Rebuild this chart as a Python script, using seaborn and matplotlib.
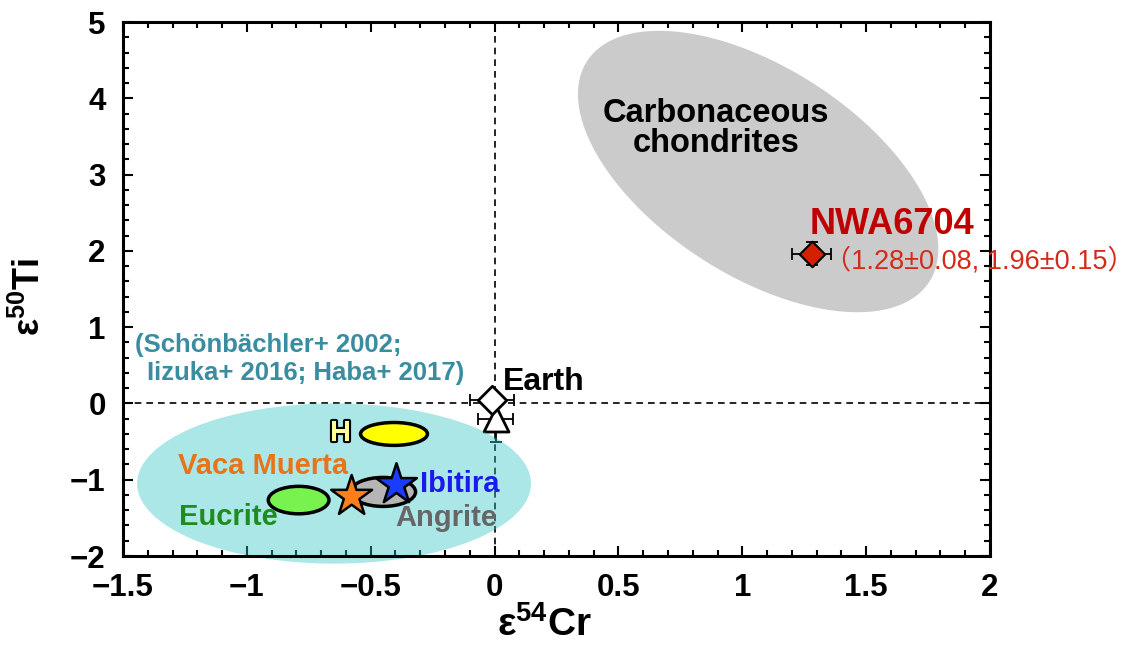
import numpy as np
import pandas as pd
import matplotlib
matplotlib.use("Agg")
import matplotlib.pyplot as plt
import matplotlib.patheffects as pe
from matplotlib.patches import Ellipse
from matplotlib.ticker import MultipleLocator
import seaborn as sns

# ---------------- data ----------------
x_ticks = [-1.5, -1, -0.5, 0, 0.5, 1, 1.5, 2]
x_tick_labels = ["\u22121.5", "\u22121", "\u22120.5", "0", "0.5", "1", "1.5", "2"]
y_ticks = [-2, -1, 0, 1, 2, 3, 4, 5]
y_tick_labels = ["\u22122", "\u22121", "0", "1", "2", "3", "4", "5"]

# measured samples (eps54Cr, eps50Ti) with errors
nwa_cr, nwa_ti = [1.28], [1.96]
nwa_cr_err, nwa_ti_err = [0.08], [0.15]
earth_cr_diamond, earth_ti_diamond, earth_cr_err_diamond = [-0.01], [0.04], [0.09]
earth_cr_tri, earth_ti_tri = [0.005], [-0.20]
earth_cr_err_tri, earth_ti_err_tri = [0.07], [0.31]

# achondrite stars
star_names = ["Vaca Muerta", "Ibitira"]
star_cr = [-0.577, -0.396]
star_ti = [-1.22, -1.066]

# group fields (ellipses): centre, full width (Cr), full height (Ti)
group_names = ["H", "Eucrite", "Angrite"]
group_cr = [-0.406, -0.791, -0.45]
group_ti = [-0.40, -1.267, -1.16]
group_w = [0.27, 0.245, 0.262]
group_h = [0.30, 0.36, 0.38]

# non-carbonaceous field
nc_center = (-0.648, -1.05)
nc_size = (1.59, 2.10)

# carbonaceous chondrite field: centre and two conjugate half-axes (data units)
cc_center = (1.064, 3.04)
cc_axis1 = (0.69, -1.45)
cc_axis2 = (0.23, 1.14)

# ---------------- style ----------------
sns.set_theme(style="ticks")
plt.rcParams["font.family"] = ["Liberation Sans", "Noto Sans CJK JP", "DejaVu Sans"]
plt.rcParams["mathtext.fontset"] = "custom"
plt.rcParams["mathtext.rm"] = "Liberation Sans:bold"
plt.rcParams["mathtext.bf"] = "Liberation Sans:bold"
plt.rcParams["mathtext.it"] = "Liberation Sans:bold"
plt.rcParams["text.color"] = "black"
plt.rcParams["axes.labelcolor"] = "black"
plt.rcParams["xtick.color"] = "black"
plt.rcParams["ytick.color"] = "black"
plt.rcParams["xtick.labelcolor"] = "black"
plt.rcParams["ytick.labelcolor"] = "black"

fig = plt.figure(figsize=(11.28, 6.49), dpi=100)
ax = fig.add_axes([123 / 1128, 1 - 556 / 649, (990 - 123) / 1128, (556 - 22) / 649])
ax.set_xlim(-1.5, 2)
ax.set_ylim(-2, 5)

# carbonaceous field
t = np.linspace(0, 2 * np.pi, 400)
cc_x = cc_center[0] + cc_axis1[0] * np.cos(t) + cc_axis2[0] * np.sin(t)
cc_y = cc_center[1] + cc_axis1[1] * np.cos(t) + cc_axis2[1] * np.sin(t)
ax.fill(cc_x, cc_y, color="#cbcbcb", lw=0, zorder=1)

# reference dashed lines
ax.axhline(0, color="black", lw=1.2, ls=(0, (4, 3)), zorder=2)
ax.axvline(0, color="black", lw=1.2, ls=(0, (4, 3)), zorder=2)

# Earth error bars and markers
ax.errorbar(earth_cr_tri, earth_ti_tri, xerr=earth_cr_err_tri, yerr=earth_ti_err_tri,
            fmt="none", ecolor="black", elinewidth=1.3, capsize=4, capthick=1.3, zorder=3)
ax.errorbar(earth_cr_diamond, earth_ti_diamond, xerr=earth_cr_err_diamond,
            fmt="none", ecolor="black", elinewidth=1.3, capsize=4, capthick=1.3, zorder=3)
sns.scatterplot(x=earth_cr_tri, y=earth_ti_tri, marker="^", s=18 ** 2, color="white",
                edgecolor="black", linewidth=2.0, ax=ax, zorder=4)
sns.scatterplot(x=earth_cr_diamond, y=earth_ti_diamond, marker="D", s=14.5 ** 2, color="white",
                edgecolor="black", linewidth=2.0, ax=ax, zorder=5)

# non-carbonaceous (cyan) field, translucent on top
ax.add_patch(Ellipse(nc_center, nc_size[0], nc_size[1], facecolor="#2ec4c4", alpha=0.4,
                     lw=0, zorder=6, clip_on=False))

# group ellipses
group_colors = ["#ffff00", "#77f24f", "#b5b5b5"]
for cx, cy, w, h, c in zip(group_cr, group_ti, group_w, group_h, group_colors):
    ax.add_patch(Ellipse((cx, cy), w, h, facecolor=c, edgecolor="black", lw=2.5, zorder=7))

# stars
star_df = pd.DataFrame({"cr": star_cr, "ti": star_ti, "name": star_names})
sns.scatterplot(data=star_df, x="cr", y="ti", hue="name", marker="*", s=31 ** 2,
                palette=["#ff7f1a", "#1a3cff"], edgecolor="black", linewidth=1.8,
                legend=False, ax=ax, zorder=8)

# NWA6704
ax.errorbar(nwa_cr, nwa_ti, xerr=nwa_cr_err, yerr=nwa_ti_err, fmt="none", ecolor="black",
            elinewidth=1.3, capsize=4, capthick=1.3, zorder=8)
sns.scatterplot(x=nwa_cr, y=nwa_ti, marker="D", s=13 ** 2, color="#d42000",
                edgecolor="black", linewidth=1.5, ax=ax, zorder=9)

# ---------------- text ----------------
ax.text(0.894, 3.60, "Carbonaceous\nchondrites", ha="center", va="center", fontsize=23.5,
        fontweight="bold", color="black", linespacing=0.95, zorder=10)
ax.text(1.27, 2.35, "NWA6704", ha="left", va="center", fontsize=26, fontweight="bold",
        color="#c00000", zorder=10)
ax.text(1.331, 1.87, "\uff081.28\u00b10.08, 1.96\u00b10.15\uff09", ha="left", va="center",
        fontsize=19.5, color="#d42a1a", zorder=13, clip_on=False)
ax.text(0.034, 0.275, "Earth", ha="left", va="center", fontsize=23, fontweight="bold",
        color="black", zorder=10)
ax.text(-1.452, 0.76, "(Sch\u00f6nb\u00e4chler+ 2002;", ha="left", va="center", fontsize=18.5,
        fontweight="bold", color="#3a8ca0", zorder=10)
ax.text(-1.403, 0.393, "Iizuka+ 2016; Haba+ 2017)", ha="left", va="center", fontsize=18.5,
        fontweight="bold", color="#3a8ca0", zorder=10)
ax.text(-0.664, -0.393, "H", ha="left", va="center", fontsize=21, fontweight="bold",
        color="#ffff99", zorder=10,
        path_effects=[pe.withStroke(linewidth=3, foreground="black")])
ax.text(-1.278, -0.826, "Vaca Muerta", ha="left", va="center", fontsize=21, fontweight="bold",
        color="#e8741a", zorder=10)
ax.text(-1.274, -1.494, "Eucrite", ha="left", va="center", fontsize=21, fontweight="bold",
        color="#1e8c1e", zorder=10)
ax.text(-0.301, -1.062, "Ibitira", ha="left", va="center", fontsize=21, fontweight="bold",
        color="#1a1aee", zorder=10)
ax.text(-0.402, -1.507, "Angrite", ha="left", va="center", fontsize=21, fontweight="bold",
        color="#666666", zorder=10)

# ---------------- axes ----------------
ax.set_xticks(x_ticks)
ax.set_xticklabels(x_tick_labels)
ax.set_yticks(y_ticks)
ax.set_yticklabels(y_tick_labels)
ax.xaxis.set_minor_locator(MultipleLocator(0.1))
ax.yaxis.set_minor_locator(MultipleLocator(0.2))
ax.tick_params(which="both", direction="in", top=True, right=True, width=1.5,
               color="black", labelcolor="black")
ax.tick_params(which="major", length=7, labelsize=22.5, pad=12.5)
ax.tick_params(which="minor", length=4.5)
for lab in ax.get_xticklabels() + ax.get_yticklabels():
    lab.set_fontweight("bold")
for sp in ax.spines.values():
    sp.set_visible(True)
    sp.set_linewidth(2.2)
    sp.set_color("black")
    sp.set_zorder(12)

ax.set_xlabel("\u03b5$^{54}$Cr", fontsize=28, fontweight="bold", color="black")
ax.set_ylabel("\u03b5$^{50}$Ti", fontsize=26, fontweight="bold", color="black")
ax.xaxis.set_label_coords(0.4856, -0.0936)
ax.yaxis.set_label_coords(-0.086, 0.485)
ax.grid(False)

fig.savefig("out.png", dpi=100)
